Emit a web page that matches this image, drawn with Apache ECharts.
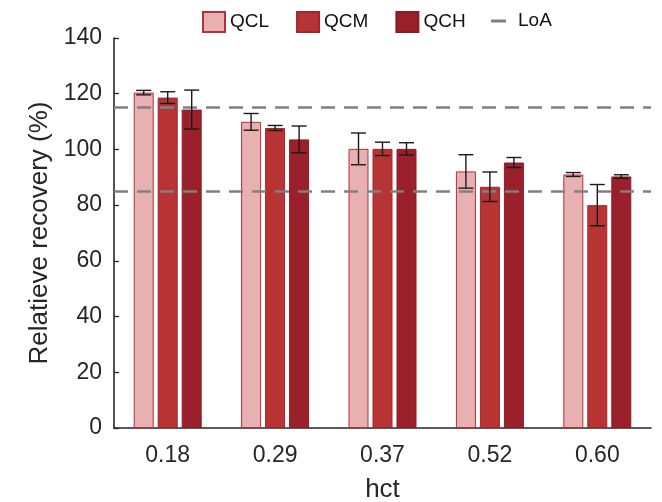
<!DOCTYPE html>
<html>
<head>
<meta charset="utf-8">
<script src="https://cdn.jsdelivr.net/npm/echarts@6/dist/echarts.min.js"></script>
<style>html,body{margin:0;padding:0;background:#fff;overflow:hidden}#c{width:662px;height:502px}</style>
</head>
<body>
<div id="c"></div>
<script>
var categories = ['0.18', '0.29', '0.37', '0.52', '0.60'];
var qcl = [120.4, 109.9, 100.2, 92.1, 91.0];
var qclErr = [0.8, 3.0, 5.7, 6.0, 0.7];
var qcm = [118.6, 107.7, 100.2, 86.6, 80.0];
var qcmErr = [2.1, 0.9, 2.4, 5.3, 7.4];
var qch = [114.3, 103.6, 100.2, 95.3, 90.3];
var qchErr = [7.0, 4.8, 2.2, 1.8, 0.6];
var loa = [115, 85];
var yTicks = [0, 20, 40, 60, 80, 100, 120, 140];

var FONT = 'Liberation Sans, Arial, Helvetica, sans-serif';
var TXT = '#262626';

var chart = echarts.init(document.getElementById('c'), null, {renderer: 'canvas'});

function errSeries(name, means, errs, slot) {
  var data = means.map(function (m, i) { return [i, m - errs[i], m + errs[i]]; });
  return {
    type: 'custom',
    name: name + '_err',
    z: 10,
    silent: true,
    data: data,
    encode: {x: 0, y: [1, 2]},
    renderItem: function (params, api) {
      var i = api.value(0);
      var lo = api.coord([i, api.value(1)]);
      var hi = api.coord([i, api.value(2)]);
      var x = lo[0] + (slot - 1) * 24;
      var cap = 7.5;
      var st = {stroke: '#1a1a1a', lineWidth: 1.4, fill: null};
      return {
        type: 'group',
        children: [
          {type: 'line', shape: {x1: x, y1: lo[1], x2: x, y2: hi[1]}, style: st},
          {type: 'line', shape: {x1: x - cap, y1: lo[1], x2: x + cap, y2: lo[1]}, style: st},
          {type: 'line', shape: {x1: x - cap, y1: hi[1], x2: x + cap, y2: hi[1]}, style: st}
        ]
      };
    }
  };
}

function barSeries(name, values, fill, border) {
  return {
    type: 'bar',
    name: name,
    data: values,
    barWidth: 20,
    barGap: '20%',
    itemStyle: {color: fill, borderColor: border, borderWidth: 1},
    z: 2
  };
}

var option = {
  animation: false,
  backgroundColor: '#ffffff',
  textStyle: {fontFamily: FONT},
  legend: [
    {
      data: ['QCL', 'QCM', 'QCH'],
      left: 202, top: 11, padding: 0,
      itemWidth: 22, itemHeight: 20, itemGap: 27,
      icon: 'rect',
      textStyle: {fontSize: 19, color: '#111', fontFamily: FONT, lineHeight: 20}
    },
    {
      data: ['LoA'],
      left: 491, top: 11, padding: 0,
      itemWidth: 15, itemHeight: 3,
      icon: 'rect',
      itemStyle: {color: '#808080', borderWidth: 0},
      textStyle: {fontSize: 19, color: '#111', fontFamily: FONT, lineHeight: 20, padding: [0, 0, 0, 7]}
    }
  ],
  grid: {left: 114, right: 11, top: 38, bottom: 74, containLabel: false, outerBoundsMode: 'none'},
  xAxis: {
    type: 'category',
    data: categories,
    boundaryGap: true,
    name: 'hct',
    nameLocation: 'middle',
    nameGap: 49,
    nameTextStyle: {fontSize: 26, color: TXT, fontFamily: FONT},
    axisLine: {lineStyle: {color: TXT, width: 1.6}},
    axisTick: {inside: true, length: 5, alignWithLabel: true, lineStyle: {color: TXT, width: 1.3}},
    axisLabel: {fontSize: 23, color: TXT, margin: 16, fontFamily: FONT},
    splitLine: {show: false}
  },
  yAxis: {
    type: 'value',
    min: yTicks[0], max: yTicks[yTicks.length - 1], interval: 20,
    name: 'Relatieve recovery (%)',
    nameLocation: 'middle',
    nameGap: 61,
    nameTextStyle: {fontSize: 26, color: TXT, fontFamily: FONT},
    axisLine: {show: true, lineStyle: {color: TXT, width: 1.6}},
    axisTick: {show: true, inside: true, length: 5, lineStyle: {color: TXT, width: 1.3}},
    axisLabel: {fontSize: 23, color: TXT, margin: 12, fontFamily: FONT},
    splitLine: {show: false}
  },
  series: [
    barSeries('QCL', qcl, '#E8B0B0', '#B0303C'),
    barSeries('QCM', qcm, '#B83434', '#A0262E'),
    barSeries('QCH', qch, '#9A202B', '#8E1C27'),
    {
      type: 'line',
      name: 'LoA',
      data: [],
      color: '#808080',
      lineStyle: {color: '#808080', width: 2.5, type: [14, 9]},
      z: 5,
      markLine: {
        silent: true,
        symbol: ['none', 'none'],
        label: {show: false},
        lineStyle: {color: '#808080', width: 2.5, type: [14, 9]},
        data: loa.map(function (v) { return {yAxis: v}; }),
        z: 5
      }
    },
    errSeries('QCL', qcl, qclErr, 0),
    errSeries('QCM', qcm, qcmErr, 1),
    errSeries('QCH', qch, qchErr, 2)
  ]
};
chart.setOption(option);
</script>
</body>
</html>
